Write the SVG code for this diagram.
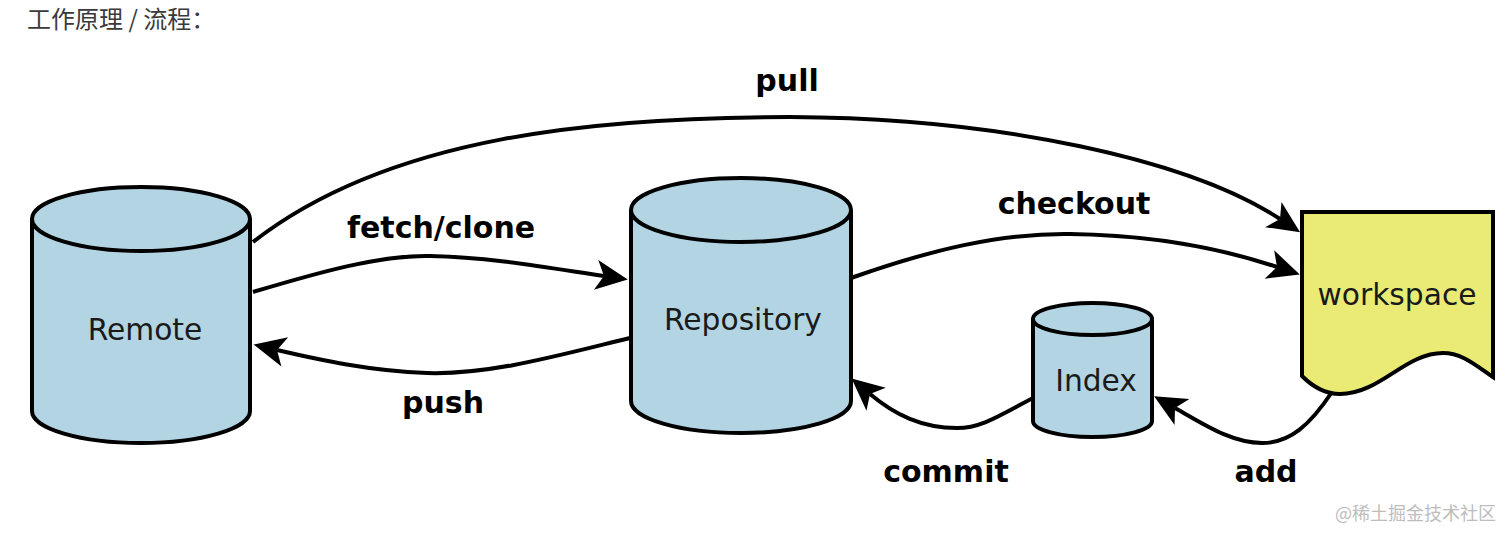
<svg xmlns="http://www.w3.org/2000/svg" width="1512" height="540" viewBox="0 0 1512 540">
<defs>
<style>
.cyl{fill:#b3d5e3;stroke:#000;stroke-width:4;stroke-linejoin:round}
.ws{fill:#e9eb75;stroke:#000;stroke-width:4;stroke-linejoin:miter}
.nl{font-family:"DejaVu Sans",Verdana,sans-serif;font-size:29.7px;fill:#1a1a1a;text-anchor:middle}
.el{font-family:"DejaVu Sans",Verdana,sans-serif;font-size:30px;font-weight:bold;fill:#000;text-anchor:middle}
.cn{fill:none;stroke:#000;stroke-width:4;marker-end:url(#ah)}
</style>
<marker id="ah" markerUnits="userSpaceOnUse" markerWidth="60" markerHeight="60" refX="0" refY="0" orient="auto" overflow="visible" viewBox="-30 -30 60 60">
<path d="M24 0 L-8 -15 L0 0 L-8 15 Z" fill="#000"/>
</marker>
</defs>
<rect width="1512" height="540" fill="#fff"/>
<text x="27" y="28" font-family="'Noto Sans CJK SC','Noto Sans',sans-serif" font-size="24" fill="#3a3a3a">工作原理 / 流程：</text>
<g id="connectors">
<path class="cn" d="M253 242 C390 135 600 117 790 117 C1000 118 1190 160 1280 219"/>
<path class="cn" d="M253 292 C320 272 380 255 430 256 C490 257 550 268 604 276"/>
<path class="cn" d="M630 338 C560 355 490 375 427 373 C370 371 320 360 277 350"/>
<path class="cn" d="M851 278 C930 250 1000 233 1070 234 C1150 235 1220 248 1277 267"/>
<path class="cn" d="M1033 398 C1000 415 982 428 957 428 C922 428 895 415 870 394"/>
<path class="cn" d="M1332 392 C1310 425 1290 443 1262 443 C1232 443 1205 425 1175 408"/>
</g>
<g id="remote">
<path class="cyl" d="M32 219 V411 A109 32 0 0 0 250 411 V219"/>
<ellipse class="cyl" cx="141" cy="219" rx="109" ry="32"/>
<text class="nl" x="145" y="340">Remote</text>
</g>
<g id="repository">
<path class="cyl" d="M631 210 V401 A110 32 0 0 0 851 401 V210"/>
<ellipse class="cyl" cx="741" cy="210" rx="110" ry="32"/>
<text class="nl" x="743" y="330">Repository</text>
</g>
<g id="index">
<path class="cyl" d="M1033 319 V421 A59.5 16 0 0 0 1152 421 V319"/>
<ellipse class="cyl" cx="1092.5" cy="319" rx="59.5" ry="16"/>
<text class="nl" x="1096" y="391">Index</text>
</g>
<g id="workspace">
<path class="ws" d="M1302 212 H1493 V377 C1475 365 1462 353 1443 353 C1405 353 1380 394 1340 394 C1325 394 1312 386 1302 376 Z"/>
<text class="nl" x="1397" y="305">workspace</text>
</g>
<g id="labels">
<text class="el" x="787" y="91">pull</text>
<text class="el" x="441" y="238">fetch/clone</text>
<text class="el" x="1074" y="214">checkout</text>
<text class="el" x="443" y="413">push</text>
<text class="el" x="946" y="482">commit</text>
<text class="el" x="1266" y="482">add</text>
</g>
<text x="1335" y="520" font-family="'Noto Sans CJK SC','Noto Sans',sans-serif" font-size="18" fill="#bdbdbd">@稀土掘金技术社区</text>
</svg>
